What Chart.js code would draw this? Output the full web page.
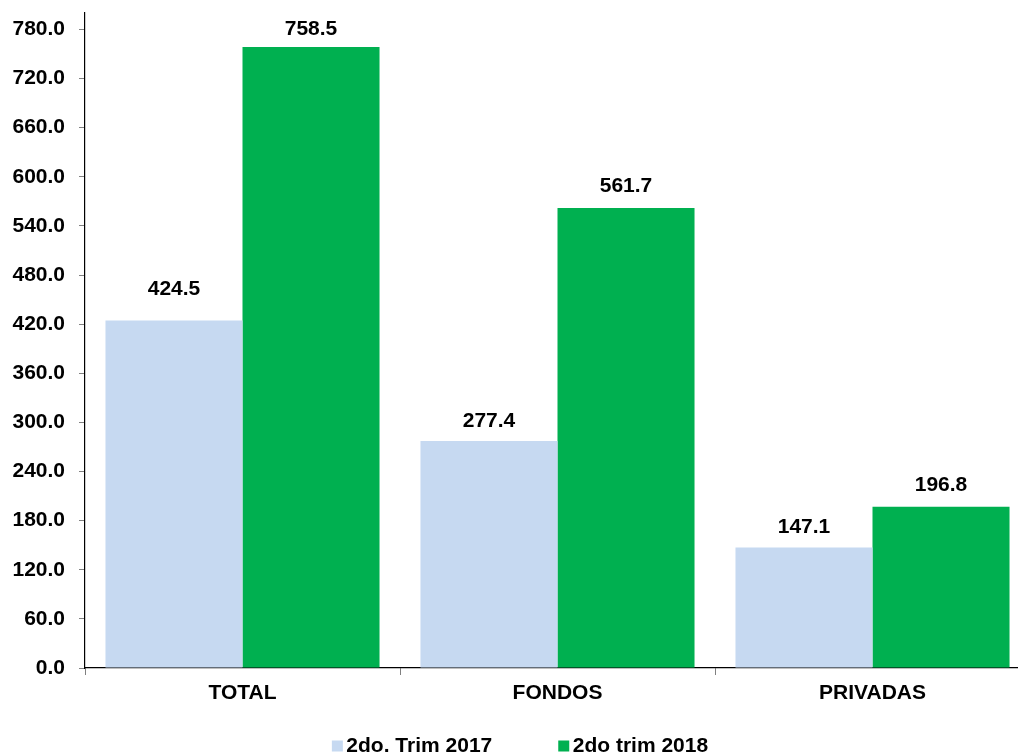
<!DOCTYPE html>
<html>
<head>
<meta charset="utf-8">
<script src="https://cdn.jsdelivr.net/npm/chart.js@4/dist/chart.umd.min.js"></script>
<style>
  html, body { margin: 0; padding: 0; background: #fff; overflow: hidden; }
  #wrap { width: 1040px; height: 756px; }
</style>
</head>
<body>
<div id="wrap"><canvas id="c" width="1040" height="756"></canvas></div>
<script>
const categories = ['TOTAL', 'FONDOS', 'PRIVADAS'];
const seriesNames = ['2do. Trim 2017', '2do trim 2018'];
const values2017 = [424.5, 277.4, 147.1];
const values2018 = [758.5, 561.7, 196.8];
const yTickStep = 60;
const yMax = 800;

const colors = ['#C6D9F1', '#00B050'];
const FONT = '"Liberation Sans", Arial, sans-serif';
// label lift above bar top (style)
const labelLift = [[31, 20, 20], [18, 22, 22]];

const valueLabels = {
  id: 'valueLabels',
  afterDatasetsDraw(chart) {
    const ctx = chart.ctx;
    ctx.save();
    ctx.font = 'bold 21px ' + FONT;
    ctx.fillStyle = '#000';
    ctx.textAlign = 'center';
    ctx.textBaseline = 'middle';
    chart.data.datasets.forEach((ds, di) => {
      const meta = chart.getDatasetMeta(di);
      meta.data.forEach((bar, i) => {
        ctx.fillText(ds.data[i].toFixed(1), bar.x, bar.y - labelLift[di][i]);
      });
    });
    ctx.restore();
  }
};

const customLegend = {
  id: 'customLegend',
  afterDraw(chart) {
    const ctx = chart.ctx;
    ctx.save();
    ctx.font = 'bold 21px ' + FONT;
    ctx.textBaseline = 'middle';
    ctx.textAlign = 'left';
    const box = 11, gapBT = 3.5, gapItems = 66;
    const items = chart.data.datasets.map(d => ({ text: d.label, color: d.backgroundColor, w: ctx.measureText(d.label).width }));
    let total = 0;
    items.forEach((it, i) => { total += box + gapBT + it.w + (i < items.length - 1 ? gapItems : 0); });
    let x = chart.width / 2 - total / 2;
    const yc = 745.5;
    items.forEach(it => {
      ctx.fillStyle = it.color;
      ctx.fillRect(x, yc - 5, box, box);
      x += box + gapBT;
      ctx.fillStyle = '#000';
      ctx.fillText(it.text, x, yc + 1);
      x += it.w + gapItems;
    });
    ctx.restore();
  }
};

new Chart(document.getElementById('c'), {
  type: 'bar',
  data: {
    labels: categories,
    datasets: [
      { label: seriesNames[0], data: values2017, backgroundColor: colors[0], borderWidth: 0 },
      { label: seriesNames[1], data: values2018, backgroundColor: colors[1], borderWidth: 0 }
    ]
  },
  options: {
    responsive: false,
    animation: false,
    devicePixelRatio: 1,
    layout: { padding: { top: 13, right: 10, left: 0, bottom: 0 } },
    datasets: { bar: { categoryPercentage: 0.87, barPercentage: 1.0 } },
    plugins: {
      legend: { display: false },
      tooltip: { enabled: false },
      title: { display: false }
    },
    scales: {
      x: {
        grid: { display: true, drawOnChartArea: false, drawTicks: true, tickLength: 7, tickColor: '#808080', offset: true },
        border: { display: true, color: '#000', width: 1.2 },
        ticks: { color: '#000', font: { family: FONT, size: 21, weight: 'bold' }, padding: 6, maxRotation: 0 },
        afterFit(scale) { scale.height = 88; scale.paddingLeft = 0; scale.paddingRight = 0; }
      },
      y: {
        min: 0,
        max: yMax,
        grid: { display: true, drawOnChartArea: false, drawTicks: true, tickLength: 6, tickColor: '#808080' },
        border: { display: true, color: '#000', width: 1.2 },
        ticks: {
          stepSize: yTickStep,
          includeBounds: false,
          color: '#000',
          font: { family: FONT, size: 21, weight: 'bold' },
          padding: 14,
          callback: v => Number(v).toFixed(1)
        },
        afterFit(scale) { scale.width = 85; scale.paddingTop = 0; scale.paddingBottom = 0; }
      }
    }
  },
  plugins: [valueLabels, customLegend]
});
</script>
</body>
</html>
